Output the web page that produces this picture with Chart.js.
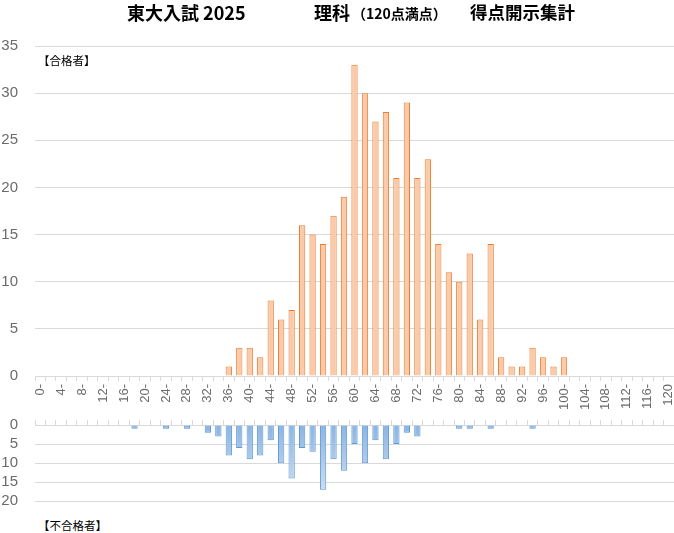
<!DOCTYPE html>
<html lang="ja">
<head>
<meta charset="utf-8">
<script src="https://cdn.jsdelivr.net/npm/chart.js@4.4.1/dist/chart.umd.min.js"></script>
<style>
  body { margin: 0; background: #fff; }
  #wrap { position: relative; width: 674px; height: 533px; overflow: hidden; background: #fff;
          font-family: "Noto Sans CJK JP", sans-serif; }
  canvas { position: absolute; left: 0; }
  #chartGoukaku { top: 0; }
  #chartFugoukaku { top: 415px; }
  .t { position: absolute; white-space: nowrap; font-weight: bold; color: #000; line-height: 1; }
  .lbl { position: absolute; white-space: nowrap; color: #000; font-size: 11.5px; line-height: 1; }
</style>
</head>
<body>
<div id="wrap">
  <canvas id="chartGoukaku" width="674" height="418"></canvas>
  <canvas id="chartFugoukaku" width="674" height="100"></canvas>
  <!-- タイトル -->
  <span class="t" style="left:127px;top:3px;font-size:18px;">東大入試 2025</span>
  <span class="t" style="left:314px;top:3px;font-size:18px;">理科</span>
  <span class="t" style="left:352px;top:6px;font-size:14px;">（120点満点）</span>
  <span class="t" style="left:470px;top:3px;font-size:17.5px;">得点開示集計</span>
  <span class="lbl" style="left:38px;top:55px;">【合格者】</span>
  <span class="lbl" style="left:38px;top:520px;">【不合格者】</span>
</div>
<script>
// 得点区分 (2点刻み)
const tokuten = [
  "0-", "2-", "4-", "6-", "8-", "10-", "12-", "14-", "16-", "18-",
  "20-", "22-", "24-", "26-", "28-", "30-", "32-", "34-", "36-", "38-",
  "40-", "42-", "44-", "46-", "48-", "50-", "52-", "54-", "56-", "58-",
  "60-", "62-", "64-", "66-", "68-", "70-", "72-", "74-", "76-", "78-",
  "80-", "82-", "84-", "86-", "88-", "90-", "92-", "94-", "96-", "98-",
  "100-", "102-", "104-", "106-", "108-", "110-", "112-", "114-", "116-", "118-",
  "120"
];

// 合格者の人数
const goukaku = [
  0, 0, 0, 0, 0, 0, 0, 0, 0, 0,
  0, 0, 0, 0, 0, 0, 0, 0, 1, 3,
  3, 2, 8, 6, 7, 16, 15, 14, 17, 19,
  33, 30, 27, 28, 21, 29, 21, 23, 14, 11,
  10, 13, 6, 14, 2, 1, 1, 3, 2, 1,
  2, 0, 0, 0, 0, 0, 0, 0, 0, 0,
  0
];

// 不合格者の人数
const fugoukaku = [
  0, 0, 0, 0, 0, 0, 0, 0, 0, 1,
  0, 0, 1, 0, 1, 0, 2, 3, 8, 6,
  9, 8, 4, 10, 14, 6, 7, 17, 9, 12,
  5, 10, 4, 9, 5, 2, 3, 0, 0, 0,
  1, 1, 0, 1, 0, 0, 0, 1, 0, 0,
  0, 0, 0, 0, 0, 0, 0, 0, 0, 0,
  0
];

const grisLinea = "#d9d9d9";
const grisTexto = "#6b6b6b";
const fuenteEje = "'Liberation Sans', Arial, sans-serif";

// 横軸: 幅と余白を固定
const fijarX = (alto) => (scale) => {
  scale.height = alto;
  scale.paddingLeft = 0;
  scale.paddingRight = 0;
};
// 縦軸: 幅と余白を固定
const fijarY = (scale) => {
  scale.width = 35;
  scale.paddingTop = 0;
  scale.paddingBottom = 0;
};

/* 上のグラフ: 合格者 */
const ctxGoukaku = document.getElementById("chartGoukaku").getContext("2d");
const chartGoukaku = new Chart(ctxGoukaku, {
  type: "bar",
  data: {
    labels: tokuten,
    datasets: [
      {
        label: "合格者",
        data: goukaku.map((v) => (v === 0 ? null : v)),
        backgroundColor: "#f9cbab",
        borderColor: "#ed7d31",
        borderWidth: 1,
        categoryPercentage: 1,
        barPercentage: 0.6,
      },
    ],
  },
  options: {
    responsive: false,
    animation: false,
    layout: { padding: { top: 46, left: 0, right: 0, bottom: 0 } },
    plugins: { legend: { display: false }, tooltip: { enabled: false } },
    scales: {
      x: {
        offset: true,
        grid: { display: true, drawOnChartArea: false, drawTicks: true, tickLength: 5, color: grisLinea, offset: true },
        border: { display: true, color: grisLinea },
        ticks: {
          autoSkip: false,
          maxRotation: 90,
          minRotation: 90,
          padding: 3,
          color: grisTexto,
          font: { family: fuenteEje, size: 13 },
          callback: (value, index) => (index % 2 === 0 ? tokuten[index] : ""),
        },
        afterFit: fijarX(42),
      },
      y: {
        min: 0,
        max: 35,
        ticks: { stepSize: 5, autoSkip: false, padding: 17, color: grisTexto, font: { family: fuenteEje, size: 15 } },
        grid: { color: grisLinea, drawTicks: false },
        border: { display: false },
        afterFit: fijarY,
      },
    },
  },
});

/* 下のグラフ: 不合格者 (下向き) */
const ctxFugoukaku = document.getElementById("chartFugoukaku").getContext("2d");
const chartFugoukaku = new Chart(ctxFugoukaku, {
  type: "bar",
  data: {
    labels: tokuten,
    datasets: [
      {
        label: "不合格者",
        data: fugoukaku.map((v) => (v === 0 ? null : v)),
        backgroundColor: (c) => {
          const area = c.chart.chartArea;
          if (!area) return "#9dc3e6";
          const g = c.chart.ctx.createLinearGradient(0, area.top, 0, area.bottom);
          g.addColorStop(0, "#8db4e2");
          g.addColorStop(1, "#d6e4f4");
          return g;
        },
        borderColor: "#5b9bd5",
        borderWidth: 1,
        categoryPercentage: 1,
        barPercentage: 0.6,
      },
    ],
  },
  options: {
    responsive: false,
    animation: false,
    layout: { padding: { top: 0, left: 0, right: 0, bottom: 13.7 } },
    plugins: { legend: { display: false }, tooltip: { enabled: false } },
    scales: {
      x: {
        position: "top",
        offset: true,
        grid: { display: true, drawOnChartArea: false, drawTicks: true, tickLength: 5, color: grisLinea, offset: true },
        border: { display: true, color: grisLinea },
        ticks: { display: false, autoSkip: false },
        afterFit: fijarX(10),
      },
      y: {
        reverse: true,
        min: 0,
        max: 20,
        ticks: { stepSize: 5, autoSkip: false, padding: 17, color: grisTexto, font: { family: fuenteEje, size: 15 } },
        grid: { color: grisLinea, drawTicks: false },
        border: { display: false },
        afterFit: fijarY,
      },
    },
  },
});
</script>
</body>
</html>
